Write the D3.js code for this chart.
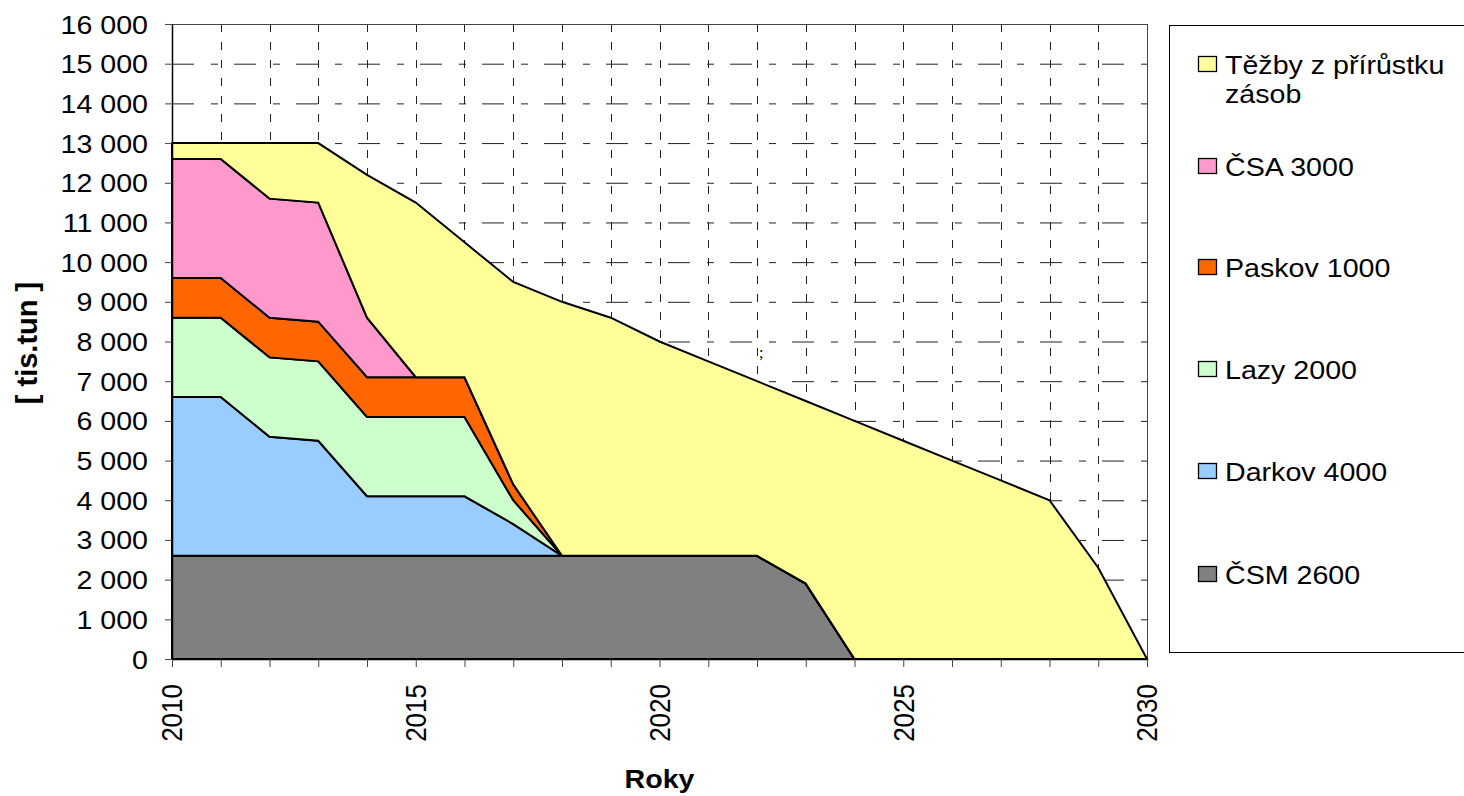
<!DOCTYPE html>
<html>
<head>
<meta charset="utf-8">
<script src="https://cdn.jsdelivr.net/npm/d3@7"></script>
<style>
    body { margin: 0; background: #fff; }
    text { font-family: "Liberation Sans", Arial, sans-serif; fill: #000; }
</style>
</head>
<body>
<svg id="chart" width="1464" height="796"></svg>
<script>
// data (tis. tun per year), stacked bottom -> top
const years = [2010, 2011, 2012, 2013, 2014, 2015, 2016, 2017, 2018, 2019, 2020,
               2021, 2022, 2023, 2024, 2025, 2026, 2027, 2028, 2029, 2030]
const csm    = [2600, 2600, 2600, 2600, 2600, 2600, 2600, 2600, 2600, 2600, 2600, 2600, 2600, 1900, 0, 0, 0, 0, 0, 0, 0]
const darkov = [4000, 4000, 3000, 2900, 1500, 1500, 1500, 800, 0, 0, 0, 0, 0, 0, 0, 0, 0, 0, 0, 0, 0]
const lazy   = [2000, 2000, 2000, 2000, 2000, 2000, 2000, 600, 0, 0, 0, 0, 0, 0, 0, 0, 0, 0, 0, 0, 0]
const paskov = [1000, 1000, 1000, 1000, 1000, 1000, 1000, 400, 0, 0, 0, 0, 0, 0, 0, 0, 0, 0, 0, 0, 0]
const csa    = [3000, 3000, 3000, 3000, 1500, 0, 0, 0, 0, 0, 0, 0, 0, 0, 0, 0, 0, 0, 0, 0, 0]
const tezby  = [400, 400, 1400, 1500, 3600, 4400, 3400, 5100, 6400, 6000, 5400, 4900, 4400, 4600,
                6000, 5500, 5000, 4500, 4000, 2300, 0]

const seriesKeys = ['csm', 'darkov', 'lazy', 'paskov', 'csa', 'tezby']
const seriesNames = ['ČSM 2600', 'Darkov 4000', 'Lazy 2000', 'Paskov 1000', 'ČSA 3000', 'Těžby z přírůstku zásob']
const seriesColors = ['#808080', '#99ccff', '#ccffcc', '#ff6600', '#ff99cc', '#ffff99']

const yTicks = [0, 1000, 2000, 3000, 4000, 5000, 6000, 7000, 8000, 9000, 10000,
                11000, 12000, 13000, 14000, 15000, 16000]
const xLabelYears = [2010, 2015, 2020, 2025, 2030]

// table for d3.stack
const table = years.map((yr, i) => ({
    year: yr, csm: csm[i], darkov: darkov[i], lazy: lazy[i],
    paskov: paskov[i], csa: csa[i], tezby: tezby[i]
}))

const svg = d3.select('#chart')
const plot = { left: 172, right: 1147, top: 24, bottom: 659 }
const sx = 1.1 // reference text looks a bit wider than plain Arial

const x = d3.scaleLinear([2010, 2030], [plot.left, plot.right])
const y = d3.scaleLinear([0, 16000], [plot.bottom, plot.top])

const fmt = d3.formatLocale({ decimal: ',', thousands: '\u00a0', grouping: [3], currency: ['', ''] }).format(',')

// grid
const grid = svg.append('g').attr('class', 'grid')
grid.selectAll('.hgrid').data(yTicks.slice(1)).join('line')
    .attr('class', 'hgrid')
    .attr('x1', plot.left).attr('x2', plot.right)
    .attr('y1', d => y(d) + 0.5).attr('y2', d => y(d) + 0.5)
    .attr('stroke', '#222').attr('stroke-width', 1)
    .attr('stroke-dasharray', '22,17,7,16')
grid.selectAll('.vgrid').data(years.slice(1, -1)).join('line')
    .attr('class', 'vgrid')
    .attr('x1', d => Math.round(x(d)) + 0.5).attr('x2', d => Math.round(x(d)) + 0.5)
    .attr('y1', plot.top).attr('y2', plot.bottom)
    .attr('stroke', '#222').attr('stroke-width', 1)
    .attr('stroke-dasharray', '8,10')

// plot border (top / right)
svg.append('rect')
    .attr('x', plot.left + 0.5).attr('y', plot.top + 0.5)
    .attr('width', plot.right - plot.left).attr('height', plot.bottom - plot.top)
    .attr('fill', 'none').attr('stroke', '#444').attr('stroke-width', 1)

// stacked areas
const stacked = d3.stack().keys(seriesKeys)(table)
const area = d3.area()
    .x(d => x(d.data.year))
    .y0(d => y(d[0]))
    .y1(d => y(d[1]))

svg.append('g').attr('class', 'areas')
    .selectAll('path').data(stacked).join('path')
    .attr('d', area)
    .attr('fill', (d, i) => seriesColors[i])
    .attr('stroke', '#000')
    .attr('stroke-width', 2)
    .attr('stroke-linejoin', 'miter')

// y axis
const yAxis = d3.axisLeft(y).tickValues(yTicks).tickFormat(fmt).tickSize(7).tickSizeOuter(0)
const yAxisDraw = svg.append('g').attr('transform', `translate(${plot.left},0)`).call(yAxis)
yAxisDraw.select('.domain').attr('stroke', '#000').attr('stroke-width', 1.5)
yAxisDraw.selectAll('.tick line').attr('stroke', '#444')
yAxisDraw.selectAll('.tick text')
    .attr('x', 0).attr('dy', null)
    .attr('dominant-baseline', 'central')
    .attr('font-size', 26).attr('font-family', null)
    .attr('transform', `translate(-24,0) scale(${sx},1)`)

// x axis
const xAxis = d3.axisBottom(x).tickValues(years).tickSize(8).tickSizeOuter(0)
    .tickFormat(d => xLabelYears.includes(d) ? String(d) : '')
const xAxisDraw = svg.append('g').attr('transform', `translate(0,${plot.bottom})`).call(xAxis)
xAxisDraw.select('.domain').attr('stroke', '#000').attr('stroke-width', 1.5)
xAxisDraw.selectAll('.tick line').attr('stroke', '#444')
xAxisDraw.selectAll('.tick text')
    .attr('x', 0).attr('y', 0).attr('dy', null)
    .attr('text-anchor', 'end')
    .attr('dominant-baseline', 'central')
    .attr('font-size', 26).attr('font-family', null)
    .attr('transform', `translate(0,25) scale(${sx},1) rotate(-90)`)

// axis titles
svg.append('text')
    .attr('transform', 'translate(37,343) rotate(-90)')
    .attr('text-anchor', 'middle')
    .attr('font-size', 29).attr('font-weight', 'bold')
    .text('[ tis.tun ]')

svg.append('text')
    .attr('transform', `translate(${(plot.left + plot.right) / 2},788) scale(${sx},1)`)
    .attr('text-anchor', 'middle')
    .attr('font-size', 26).attr('font-weight', 'bold')
    .text('Roky')

// stray mark in the plot
svg.append('text')
    .attr('x', 759).attr('y', 358)
    .attr('font-size', 16).style('font-family', '"Liberation Serif", serif')
    .text(';')

// legend
svg.append('rect')
    .attr('x', 1169.5).attr('y', 25.5).attr('width', 400).attr('height', 627)
    .attr('fill', '#fff').attr('stroke', '#000').attr('stroke-width', 1)

const legendBase = [74, 176, 277, 379, 481, 584]
const legendOrder = [5, 4, 3, 2, 1, 0]
const legend = svg.append('g').attr('class', 'legend')
legendOrder.forEach((si, row) => {
    const base = legendBase[row]
    legend.append('rect')
        .attr('x', 1198.5).attr('y', base - 17.5)
        .attr('width', 18).attr('height', 15)
        .attr('fill', seriesColors[si]).attr('stroke', '#000').attr('stroke-width', 1.3)
    const words = seriesNames[si] === 'Těžby z přírůstku zásob'
        ? ['Těžby z přírůstku', 'zásob'] : [seriesNames[si]]
    words.forEach((line, k) => {
        legend.append('text')
            .attr('transform', `translate(1225,${base + k * 29}) scale(${sx},1)`)
            .attr('font-size', 26)
            .text(line)
    })
})
</script>
</body>
</html>
